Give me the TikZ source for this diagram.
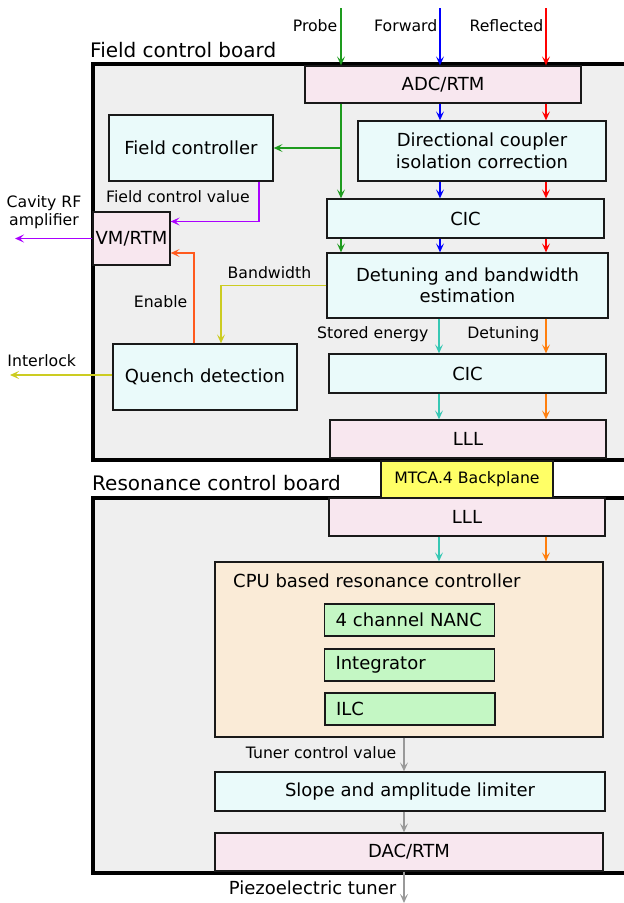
\documentclass[tikz,border=0pt]{standalone}
\usepackage{fontspec}
\setmainfont{DejaVu Sans}
\usetikzlibrary{arrows.meta,positioning,backgrounds}

\definecolor{boardgray}{HTML}{EFEFEF}
\definecolor{rtmpink}{HTML}{F8E7EF}
\definecolor{dsplight}{HTML}{EAFAFA}
\definecolor{cpubeige}{HTML}{FAEBD7}
\definecolor{algogreen}{HTML}{C4F7C4}
\definecolor{bpyellow}{HTML}{FFFF66}
\definecolor{probegreen}{HTML}{1E9B1E}
\definecolor{fwdblue}{HTML}{0000FF}
\definecolor{reflred}{HTML}{FF0000}
\definecolor{ctrlpurple}{HTML}{AA00FF}
\definecolor{enableorange}{HTML}{FF5A1E}
\definecolor{bwyellow}{HTML}{CCCC22}
\definecolor{energyteal}{HTML}{37C8B4}
\definecolor{detorange}{HTML}{FF7F0E}
\definecolor{tunergray}{HTML}{999999}

\begin{document}
\begin{tikzpicture}
        [x=1pt, y=-1pt,
        >={Stealth[length=9pt,width=8pt,inset=4pt]},
        every node/.style={font=\fontsize{18}{21.5}\selectfont},
        board/.style={fill=boardgray, draw=black, line width=3.2pt},
        title/.style={font=\fontsize{20}{24}\selectfont, anchor=base west, inner sep=0pt},
        block/.style={draw=black!90, line width=1.3pt, inner sep=2pt},
        rtm/.style={block, fill=rtmpink},
        dsp/.style={block, fill=dsplight},
        algo/.style={block, fill=algogreen, inner xsep=11pt, text width=148pt, minimum height=32pt},
        sig/.style={->, line width=1.3pt},
        lbl/.style={font=\fontsize{15.7}{18.5}\selectfont, inner sep=0pt}]

        \useasboundingbox (0,0) rectangle (624,903);

        % boards
        \draw[board] (93,64) rectangle (640,460);
        \draw[board] (93,498) rectangle (640,873);
        \node[title] (fcb) at (90,57) {Field control board};
        \node[title] (rcb) at (92,490) {Resonance control board};

        % field control board
        \node[rtm, minimum width=276pt, minimum height=37pt] (adc) at (443,84.5) {ADC/RTM};
        \node[dsp, minimum width=164pt, minimum height=66pt] (fc) at (191,148) {Field controller};
        \node[dsp, minimum width=248pt, minimum height=60pt, align=center] (dcc) at (482,151)
                {Directional coupler\\isolation correction};
        \node[dsp, minimum width=277pt, minimum height=39pt] (cic1) at (465.5,218.5) {CIC};
        \node[dsp, minimum width=281pt, minimum height=65pt, align=center] (det) at (467.5,285.5)
                {Detuning and bandwidth\\estimation};
        \node[rtm, minimum width=77pt, minimum height=53pt, inner sep=0pt] (vm) at (131.5,238.5) {VM/RTM};
        \node[dsp, minimum width=184pt, minimum height=66pt] (qd) at (205,377) {Quench detection};
        \node[dsp, minimum width=277pt, minimum height=39pt] (cic2) at (467.5,373.5) {CIC};
        \node[rtm, minimum width=276pt, minimum height=38pt] (lll1) at (468,439) {LLL};

        \node[block, fill=bpyellow, minimum width=172pt, minimum height=37pt, font=\fontsize{15.7}{18.5}\selectfont]
                (bp) at (467,479.5) {MTCA.4 Backplane};

        % resonance control board
        \node[rtm, minimum width=276pt, minimum height=38pt] (lll2) at (467,517) {LLL};
        \node[block, fill=cpubeige, minimum width=388pt, minimum height=175pt] (cpu) at (409,649.5) {};
        \node[anchor=west, inner sep=0pt] (cpu title) at (233,581) {CPU based resonance controller};
        \node[algo] (nanc) at (409.5,620) {4 channel NANC};
        \node[algo] (integ) at (409.5,665) {Integrator};
        \node[algo] (ilc) at (410,709) {ILC};
        \node[dsp, minimum width=390pt, minimum height=39pt] (slope) at (410,791.5) {Slope and amplitude limiter};
        \node[rtm, minimum width=388pt, minimum height=38pt] (dac) at (409,852) {DAC/RTM};

        % signal columns and free ends
        \coordinate (probe in) at (341,8);
        \coordinate (fwd in) at (440,8);
        \coordinate (refl in) at (546,8);
        \coordinate (energy col) at (439,0);
        \coordinate (detune col) at (546,0);
        \coordinate (tuner col) at (404,0);
        \coordinate (amp) at (15,238.5);
        \coordinate (ilk) at (10,375);
        \coordinate (piezo) at (404,903);

        % inputs
        \draw[sig, probegreen] (probe in) -- node[lbl, pos=.31, left=3pt, black] {Probe} (probe in |- adc.north);
        \draw[sig, fwdblue] (fwd in) -- node[lbl, pos=.31, left=2pt, black] {Forward} (fwd in |- adc.north);
        \draw[sig, reflred] (refl in) -- node[lbl, pos=.31, left=2pt, black] {Reflected} (refl in |- adc.north);

        % probe path
        \draw[sig, probegreen] (probe in |- adc.south) -- (probe in |- cic1.north);
        \draw[sig, probegreen] (probe in |- fc.east) -- (fc.east);
        \draw[sig, probegreen] (probe in |- cic1.south) -- (probe in |- det.north);

        % forward and reflected path
        \draw[sig, fwdblue] (fwd in |- adc.south) -- (fwd in |- dcc.north);
        \draw[sig, fwdblue] (fwd in |- dcc.south) -- (fwd in |- cic1.north);
        \draw[sig, fwdblue] (fwd in |- cic1.south) -- (fwd in |- det.north);
        \draw[sig, reflred] (refl in |- adc.south) -- (refl in |- dcc.north);
        \draw[sig, reflred] (refl in |- dcc.south) -- (refl in |- cic1.north);
        \draw[sig, reflred] (refl in |- cic1.south) -- (refl in |- det.north);

        % field control loop
        \draw[sig, ctrlpurple] ([xshift=68pt]fc.south) |- ([yshift=17pt]vm.east);
        \node[lbl, anchor=west] (fcv) at (106,196.5) {Field control value};
        \draw[sig, ctrlpurple] (vm.west) -- (amp);
        \node[lbl, align=center] (amp lbl) at (44,212) {Cavity RF\\amplifier};

        % quench detection
        \draw[sig, enableorange] ([xshift=-11pt]qd.north) |- node[lbl, pos=.23, left=6pt, black] {Enable}
                ([yshift=-14.5pt]vm.east);
        \draw[sig, bwyellow] (det.west) -| node[lbl, pos=.27, above=6pt, black] {Bandwidth}
                ([xshift=16pt]qd.north);
        \draw[sig, bwyellow] ([yshift=2pt]qd.west) -- node[lbl, pos=.69, above=8pt, black] {Interlock} (ilk);

        % detuning and stored energy
        \draw[sig, energyteal] (energy col |- det.south) -- node[lbl, pos=.45, left=10pt, black] {Stored energy}
                (energy col |- cic2.north);
        \draw[sig, detorange] (detune col |- det.south) -- node[lbl, pos=.45, left=6pt, black] {Detuning}
                (detune col |- cic2.north);
        \draw[sig, energyteal] (energy col |- cic2.south) -- (energy col |- lll1.north);
        \draw[sig, detorange] (detune col |- cic2.south) -- (detune col |- lll1.north);
        \draw[sig, energyteal] (energy col |- lll2.south) -- (energy col |- cpu.north);
        \draw[sig, detorange] (detune col |- lll2.south) -- (detune col |- cpu.north);

        % tuner output
        \draw[sig, tunergray] (tuner col |- cpu.south) -- node[lbl, pos=.45, left=7pt, black] {Tuner control value}
                (tuner col |- slope.north);
        \draw[sig, tunergray] (tuner col |- slope.south) -- (tuner col |- dac.north);
        \draw[sig, tunergray] (tuner col |- dac.south) -- node[lbl, pos=.5, left=7pt, black,
                font=\fontsize{18}{21.5}\selectfont] {Piezoelectric tuner} (piezo);
\end{tikzpicture}
\end{document}
